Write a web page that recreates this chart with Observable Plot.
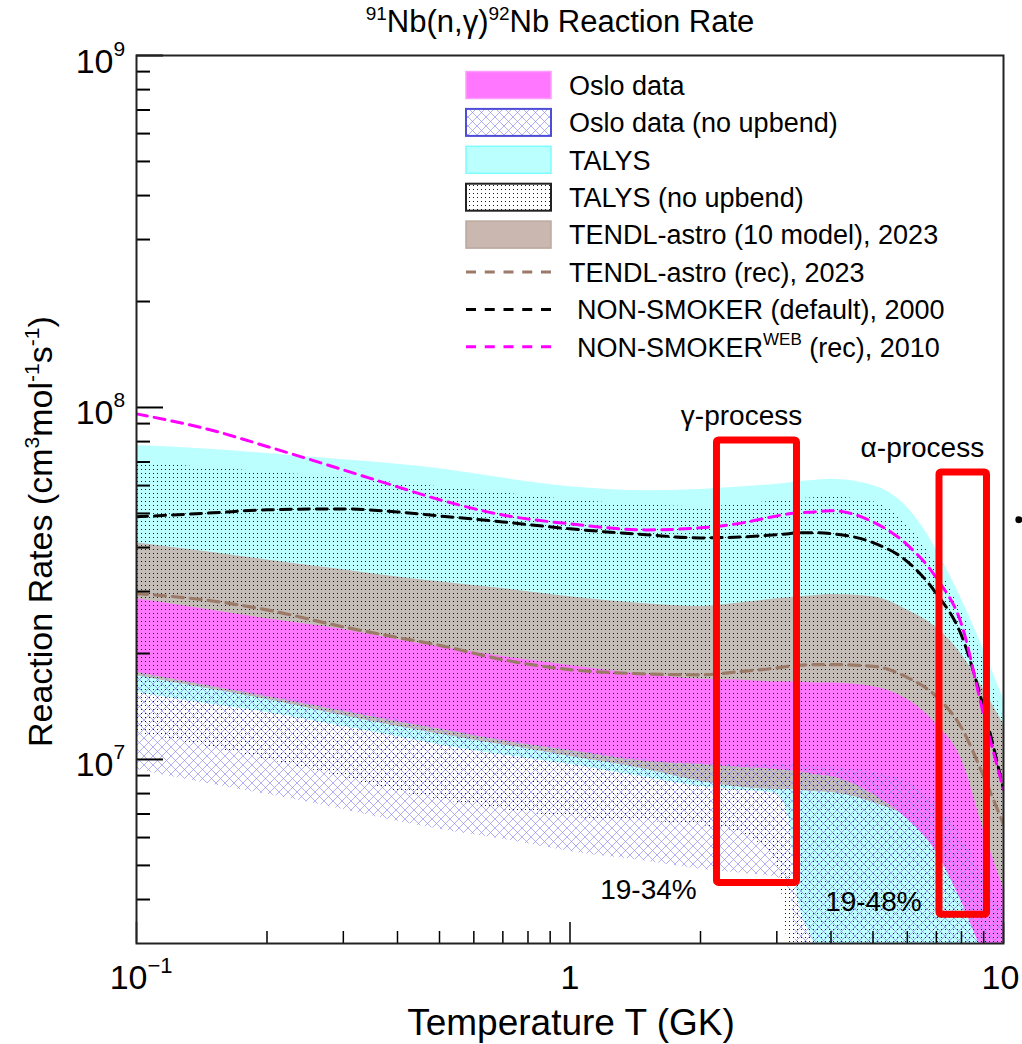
<!DOCTYPE html>
<html><head><meta charset="utf-8">
<script src="https://cdn.jsdelivr.net/npm/d3@7"></script>
<script src="https://cdn.jsdelivr.net/npm/@observablehq/plot@0.6"></script>
<style>
body{margin:0;background:#fff;}
#chart{position:relative;width:1022px;height:1044px;}
</style>
</head><body><div id="chart"></div>
<script>
// ---- data ----
const temperatures = [0.1,0.15,0.2,0.3,0.4,0.5,0.7,1,1.5,2,2.5,3,3.2,3.35,3.65,4,5,6,7,8,9,10];

const talysHigh   = [7.8e7,7.6e7,7.4e7,7.1e7,6.9e7,6.7e7,6.3e7,5.95e7,5.8e7,5.85e7,5.95e7,6.05e7,6.1e7,6.15e7,6.2e7,6.25e7,6.0e7,5.2e7,3.95e7,2.85e7,2.05e7,1.48e7];
const talysLow    = [1.55e7,1.43e7,1.36e7,1.24e7,1.16e7,1.10e7,1.03e7,9.68e6,8.89e6,8.38e6,8.17e6,8.01e6,6.76e6,4.09e6,3.0e6,2e6,2e6,2e6,2e6,2e6,2e6,2e6];

const talysNoUpHigh = [7.0e7,6.73e7,6.56e7,6.31e7,6.11e7,5.95e7,5.72e7,5.47e7,5.29e7,5.22e7,5.32e7,5.43e7,5.47e7,5.50e7,5.54e7,5.57e7,5.40e7,4.64e7,3.57e7,2.66e7,1.92e7,1.30e7];
const talysNoUpLow  = [1.19e7,1.08e7,1.0e7,8.89e6,8.11e6,7.70e6,7.21e6,6.85e6,6.67e6,6.50e6,6.13e6,5.04e6,2.8e6,2e6,2e6,2e6,2e6,2e6,2e6,2e6,2e6,2e6];

const tendlHigh = [4.13e7,3.87e7,3.69e7,3.46e7,3.30e7,3.20e7,3.06e7,2.90e7,2.77e7,2.72e7,2.79e7,2.86e7,2.88e7,2.90e7,2.92e7,2.94e7,2.90e7,2.66e7,2.37e7,1.99e7,1.58e7,1.26e7];
const tendlLow  = [1.73e7,1.58e7,1.48e7,1.33e7,1.24e7,1.18e7,1.10e7,1.02e7,9.37e6,8.66e6,8.33e6,8.22e6,8.22e6,8.17e6,8.11e6,8.06e6,7.55e6,6.85e6,5.74e6,4.57e6,3.29e6,2.4e6];

const osloHigh = [2.86e7,2.65e7,2.51e7,2.34e7,2.19e7,2.09e7,1.96e7,1.85e7,1.74e7,1.69e7,1.68e7,1.66e7,1.66e7,1.66e7,1.65e7,1.65e7,1.61e7,1.48e7,1.26e7,1.0e7,6.3e6,4.28e6];
const osloLow  = [1.77e7,1.61e7,1.51e7,1.37e7,1.28e7,1.22e7,1.13e7,1.06e7,9.87e6,9.68e6,9.49e6,9.37e6,9.31e6,9.25e6,9.07e6,8.95e6,7.96e6,6.76e6,5.45e6,3.94e6,2.8e6,2.2e6];

const osloNoUpHigh = [1.77e7,1.62e7,1.53e7,1.39e7,1.30e7,1.23e7,1.14e7,1.07e7,1.0e7,9.74e6,9.68e6,9.68e6,9.68e6,9.62e6,9.55e6,9.49e6,9.19e6,8.61e6,7.55e6,6.05e6,4.66e6,3.75e6];
const osloNoUpLow  = [9.37e6,8.49e6,7.96e6,7.21e6,6.67e6,6.33e6,5.93e6,5.48e6,5.14e6,4.88e6,4.75e6,4.63e6,4.28e6,2.8e6,2e6,2e6,2e6,2e6,2e6,2e6,2e6,2e6];

const tendlRec       = [2.96e7,2.82e7,2.66e7,2.38e7,2.22e7,2.11e7,1.92e7,1.80e7,1.75e7,1.74e7,1.78e7,1.82e7,1.84e7,1.85e7,1.86e7,1.86e7,1.84e7,1.71e7,1.51e7,1.23e7,8.95e6,6.54e6];
const nonSmoker      = [4.89e7,5.02e7,5.12e7,5.15e7,5.05e7,4.92e7,4.73e7,4.52e7,4.35e7,4.26e7,4.29e7,4.35e7,4.38e7,4.41e7,4.41e7,4.38e7,4.13e7,3.65e7,2.96e7,2.25e7,1.40e7,8.22e6];
const nonSmokerWeb   = [9.59e7,8.60e7,7.75e7,6.65e7,5.95e7,5.47e7,4.95e7,4.67e7,4.49e7,4.55e7,4.70e7,4.92e7,4.99e7,5.02e7,5.05e7,5.09e7,4.73e7,4.07e7,3.28e7,2.42e7,1.34e7,8.22e6];

// highlighted windows (T range in GK, rate range)
const boxNames = ["gamma","alpha"];
const boxT1 = [2.183, 7.118];
const boxT2 = [3.339, 9.16];
const boxR1 = [4.46e6, 3.62e6];
const boxR2 = [8.06e7, 6.54e7];

const noteLabels = ["γ-process","α-process","19-34%","19-48%"];
const noteT = [2.487, 6.5, 1.517, 5.01];
const noteR = [9.46e7, 7.67e7, 4.25e6, 3.93e6];

const yMajorTicks = [1e7,1e8,1e9];
const yMajorExp = ["7","8","9"];
const yMinorTicks = [4e6,5e6,6e6,7e6,8e6,9e6,2e7,3e7,4e7,5e7,6e7,7e7,8e7,9e7,2e8,3e8,4e8,5e8,6e8,7e8,8e8,9e8];
const xMajorTicks = [0.1,1,10];
const xMinorTicks = [0.2,0.3,0.4,0.5,0.6,0.7,0.8,0.9,2,3,4,5,6,7,8,9];

const legendLabels = ["Oslo data","Oslo data (no upbend)","TALYS","TALYS (no upbend)","TENDL-astro (10 model), 2023","TENDL-astro (rec), 2023","NON-SMOKER (default), 2000","NON-SMOKER"];
const strayDot = [{T:10.85, R:4.8e7}];

// ---- build ----
const rows = temperatures.map((T,i)=>({T,
  talysLo:talysLow[i], talysHi:talysHigh[i],
  talysNuLo:talysNoUpLow[i], talysNuHi:talysNoUpHigh[i],
  tendlLo:tendlLow[i], tendlHi:tendlHigh[i],
  osloLo:osloLow[i], osloHi:osloHigh[i],
  osloNuLo:osloNoUpLow[i], osloNuHi:osloNoUpHigh[i],
  rec:tendlRec[i], ns:nonSmoker[i], nsw:nonSmokerWeb[i]}));
const boxes = boxNames.map((n,i)=>({n, t1:boxT1[i], t2:boxT2[i], r1:boxR1[i], r2:boxR2[i]}));
const notes = noteLabels.map((l,i)=>({l, T:noteT[i], R:noteR[i]}));

const W=1022,H=1044,ML=136,MR=19,MT=55,MB=101;
const FW=W-ML-MR, FH=H-MT-MB;
const curve="monotone-x";
const FONT="'Liberation Sans', Arial, Helvetica, sans-serif";

const plot = Plot.plot({
  width:W, height:H, marginLeft:ML, marginRight:MR, marginTop:MT, marginBottom:MB,
  x:{type:"log", domain:[0.1,10], axis:null},
  y:{type:"log", domain:[3e6,1e9], axis:null},
  style:{fontFamily:FONT, background:"white", color:"black", overflow:"visible"},
  marks:[
    Plot.areaY(rows,{x:"T", y1:"talysLo", y2:"talysHi", fill:"#bbffff", curve, clip:true}),
    Plot.areaY(rows,{x:"T", y1:"tendlLo", y2:"tendlHi", fill:"#c3bcb7", curve, clip:true}),
    Plot.areaY(rows,{x:"T", y1:"osloLo", y2:"osloHi", fill:"#ff77ff", curve, clip:true}),
    Plot.areaY(rows,{x:"T", y1:"osloNuLo", y2:"osloNuHi", fill:"url(#hatchPat)", curve, clip:true}),
    Plot.areaY(rows,{x:"T", y1:"talysNuLo", y2:"talysNuHi", fill:"url(#dotPat)", curve, clip:true}),
    Plot.line(rows,{x:"T", y:"rec", stroke:"#9c7a68", strokeWidth:3.2, strokeDasharray:"11,7", curve, clip:true}),
    Plot.line(rows,{x:"T", y:"ns", stroke:"black", strokeWidth:3, strokeDasharray:"11,7", curve, clip:true}),
    Plot.line(rows,{x:"T", y:"nsw", stroke:"#ff00ff", strokeWidth:3, strokeDasharray:"11,7", curve, clip:true}),
    Plot.rect(boxes,{x1:"t1", x2:"t2", y1:"r1", y2:"r2", fill:"none", stroke:"#ff0000", strokeWidth:7, rx:2}),
    Plot.text(notes,{x:"T", y:"R", text:"l", fontSize:28, fill:"black"}),
    Plot.dot(strayDot,{x:"T", y:"R", r:3.5, fill:"black"}),
    Plot.tickY(yMajorTicks,{y:d=>d, insetRight:FW-27, strokeWidth:2}),
    Plot.tickY(yMinorTicks,{y:d=>d, insetRight:FW-14, strokeWidth:2}),
    Plot.tickX(xMajorTicks,{x:d=>d, insetTop:FH-21, strokeWidth:1.5}),
    Plot.tickX(xMinorTicks,{x:d=>d, insetTop:FH-12, strokeWidth:1.5}),
    Plot.frame({stroke:"#222", strokeWidth:2}),
    // y tick labels 10^n
    Plot.text(yMajorTicks,{y:d=>d, text:()=>"10", frameAnchor:"left", textAnchor:"end", lineAnchor:"bottom", dx:-23, dy:17, fontSize:34}),
    Plot.text(yMajorTicks,{y:d=>d, text:(d,i)=>yMajorExp[i], frameAnchor:"left", textAnchor:"start", lineAnchor:"bottom", dx:-23, dy:0, fontSize:21}),
    // x tick labels
    Plot.text([0.1],{x:d=>d, text:()=>"10", frameAnchor:"bottom", textAnchor:"end", lineAnchor:"bottom", dx:11, dy:45, fontSize:34}),
    Plot.text([0.1],{x:d=>d, text:()=>"\u22121", frameAnchor:"bottom", textAnchor:"start", lineAnchor:"bottom", dx:11, dy:29, fontSize:22}),
    Plot.text([1],{x:d=>d, text:()=>"1", frameAnchor:"bottom", textAnchor:"middle", lineAnchor:"bottom", dy:45, fontSize:34}),
    Plot.text([10],{x:d=>d, text:()=>"10", frameAnchor:"bottom", textAnchor:"middle", lineAnchor:"bottom", dx:-3, dy:45, fontSize:34})
  ]
});

const svg = d3.select(plot);
// patterns
const defs = svg.insert("defs", ":first-child");
const hp = defs.append("pattern").attr("id","hatchPat").attr("patternUnits","userSpaceOnUse").attr("width",9).attr("height",9);
hp.append("path").attr("d","M0,0L9,9M9,0L0,9M-1,8L1,10M8,-1L10,1M-1,1L1,-1M8,10L10,8").attr("stroke","#8f8ff0").attr("stroke-width",0.7).attr("fill","none");
const dp = defs.append("pattern").attr("id","dotPat").attr("patternUnits","userSpaceOnUse").attr("width",4).attr("height",4);
dp.append("rect").attr("x",1).attr("y",1).attr("width",1).attr("height",1).attr("fill","black").attr("fill-opacity",0.9);

// title
const title = svg.append("text").attr("x",560).attr("y",32).attr("text-anchor","middle")
  .attr("font-size",31).attr("font-family",FONT).attr("fill","black");
title.append("tspan").attr("font-size",19).attr("dy",-12).text("91");
title.append("tspan").attr("dy",12).text("Nb(n,γ)");
title.append("tspan").attr("font-size",19).attr("dy",-12).text("92");
title.append("tspan").attr("dy",12).text("Nb Reaction Rate");

// axis titles
const yt = svg.append("text").attr("transform","translate(52,747) rotate(-90)").attr("text-anchor","start")
  .attr("font-size",34).attr("font-family",FONT).attr("fill","black");
yt.append("tspan").text("Reaction Rates (cm");
yt.append("tspan").attr("font-size",21).attr("dy",-13).text("3");
yt.append("tspan").attr("dy",13).text("mol");
yt.append("tspan").attr("font-size",21).attr("dy",-13).text("-1");
yt.append("tspan").attr("dy",13).text("s");
yt.append("tspan").attr("font-size",21).attr("dy",-13).text("-1");
yt.append("tspan").attr("dy",13).text(")");

svg.append("text").attr("x",571).attr("y",1035).attr("text-anchor","middle")
  .attr("font-size",37).attr("font-family",FONT).attr("fill","black").text("Temperature T (GK)");

// legend
const lg = svg.append("g").attr("font-family",FONT).attr("font-size",27).attr("text-anchor","start");
const sx=466, sw=85, sh=27, ty0=85, dyRow=37.4, tx=569;
const swatchFill = ["#ff77ff","url(#hatchPat)","#bbffff","url(#dotPat)","#c9b7b0"];
const swatchStroke = ["#ff9cff","#4d4dd6","#7ffcfc","#222","#bba89f"];
const swatchSW = [1.5,2,1.5,2,1.5];
const dashColors = ["#9c7a68","black","#ff00ff"];
legendLabels.forEach((lab,i)=>{
  const cy = ty0 + i*dyRow;
  if (i<5) {
    lg.append("rect").attr("x",sx).attr("y",cy-sh/2).attr("width",sw).attr("height",sh)
      .attr("fill","white");
    lg.append("rect").attr("x",sx).attr("y",cy-sh/2).attr("width",sw).attr("height",sh)
      .attr("fill",swatchFill[i]).attr("stroke",swatchStroke[i]).attr("stroke-width",swatchSW[i]);
  } else {
    lg.append("line").attr("x1",sx).attr("x2",sx+sw).attr("y1",cy).attr("y2",cy)
      .attr("stroke",dashColors[i-5]).attr("stroke-width",3).attr("stroke-dasharray","10,8.75");
  }
  const t = lg.append("text").attr("x", i>=6 ? tx+8 : tx).attr("y",cy).attr("dy","0.36em")
    .attr("text-anchor","start").attr("fill","black");
  t.append("tspan").text(lab);
  if (i===7) {
    t.append("tspan").attr("font-size",17).attr("dy",-12).text("WEB");
    t.append("tspan").attr("dy",12).text(" (rec), 2010");
  }
});

document.getElementById("chart").appendChild(plot);
</script>
</body></html>
